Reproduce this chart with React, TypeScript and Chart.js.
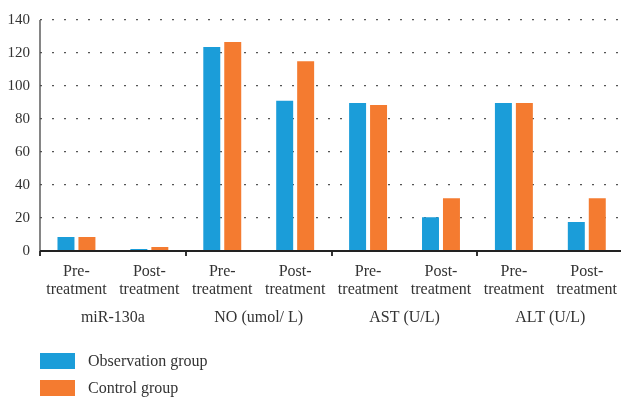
import React, { useEffect, useRef } from "react";
import { Chart, registerables } from "chart.js";

Chart.register(...registerables);

const categories: string[][] = [
  ["Pre-", "treatment"], ["Post-", "treatment"],
  ["Pre-", "treatment"], ["Post-", "treatment"],
  ["Pre-", "treatment"], ["Post-", "treatment"],
  ["Pre-", "treatment"], ["Post-", "treatment"],
];
const groups: string[] = ["miR-130a", "NO (umol/ L)", "AST (U/L)", "ALT (U/L)"];
const observation: number[] = [8.5, 1.2, 123.6, 91, 89.7, 20.5, 89.7, 17.6];
const control: number[] = [8.5, 2.4, 126.7, 115, 88.5, 32, 89.7, 32];
const seriesNames: string[] = ["Observation group", "Control group"];
const yTicks: number[] = [0, 20, 40, 60, 80, 100, 120, 140];

const BLUE = "#1b9dd9";
const ORANGE = "#f47b30";
const TEXT = "#333333";
const FONT = "'Liberation Serif', 'Times New Roman', serif";

const axisLines = {
  id: "axisLines",
  afterDraw(chart: any) {
    const { ctx, chartArea } = chart;
    ctx.save();
    ctx.setLineDash([]);
    ctx.strokeStyle = "#444";
    ctx.lineWidth = 1.3;
    ctx.beginPath();
    ctx.moveTo(chartArea.left, chartArea.top);
    ctx.lineTo(chartArea.left, chartArea.bottom);
    ctx.stroke();
    ctx.strokeStyle = "#222";
    ctx.lineWidth = 2;
    ctx.beginPath();
    ctx.moveTo(chartArea.left, chartArea.bottom);
    ctx.lineTo(chartArea.right, chartArea.bottom);
    ctx.stroke();
    ctx.restore();
  },
};

export default function App() {
  const ref = useRef<HTMLCanvasElement | null>(null);
  useEffect(() => {
    if (!ref.current) return;
    const chart = new Chart(ref.current, {
      type: "bar",
      data: {
        labels: categories,
        datasets: [
          { label: seriesNames[0], data: observation, backgroundColor: BLUE, xAxisID: "x" },
          { label: seriesNames[1], data: control, backgroundColor: ORANGE, xAxisID: "x" },
        ],
      },
      plugins: [axisLines],
      options: {
        responsive: false,
        animation: false,
        devicePixelRatio: 1,
        layout: { padding: { top: 20, bottom: 67, left: 0, right: 0 } },
        datasets: { bar: { categoryPercentage: 0.575, barPercentage: 0.81 } },
        plugins: { legend: { display: false }, tooltip: { enabled: false } },
        scales: {
          y: {
            min: 0,
            max: 140,
            afterFit: (s: any) => { s.width = 40; },
            afterBuildTicks: (s: any) => { s.ticks = yTicks.map((v) => ({ value: v })); },
            ticks: { padding: 10, color: TEXT, font: { family: FONT, size: 15 } },
            grid: {
              drawTicks: false,
              color: (ctx: any) => (ctx.tick && ctx.tick.value === 0 ? "rgba(0,0,0,0)" : "#555"),
              lineWidth: 1.3,
            },
            border: { display: false, dash: [2, 10], dashOffset: 0 },
          },
          x: {
            type: "category",
            position: "bottom",
            afterFit: (s: any) => { s.height = 50; },
            ticks: {
              padding: 7,
              color: TEXT,
              maxRotation: 0,
              autoSkip: false,
              font: { family: FONT, size: 16, lineHeight: 1.1 },
            },
            grid: {
              offset: true,
              drawOnChartArea: false,
              drawTicks: true,
              tickLength: 5,
              lineWidth: 2,
              color: (ctx: any) => (ctx.index % 2 === 0 ? "#333" : "rgba(0,0,0,0)"),
            },
            border: { display: false },
          },
          x2: {
            type: "category",
            position: "bottom",
            labels: groups,
            offset: true,
            afterFit: (s: any) => { s.height = 30; },
            ticks: { padding: 7, color: TEXT, font: { family: FONT, size: 16 } },
            grid: { display: false, drawTicks: false },
            border: { display: false },
          },
        },
      },
    });
    return () => chart.destroy();
  }, []);

  const legendColors = [BLUE, ORANGE];
  return (
    <div style={{ position: "fixed", left: 0, top: 0, width: 621, height: 398, overflow: "hidden", background: "#fff" }}>
      <canvas ref={ref} width={624} height={398} style={{ position: "absolute", left: 0, top: 0, width: 624, height: 398 }} />
      {seriesNames.map((name, i) => (
        <div
          key={name}
          style={{
            position: "absolute",
            left: 40,
            top: 353 + i * 27,
            height: 16,
            display: "flex",
            alignItems: "center",
            fontFamily: FONT,
            fontSize: 16,
            color: TEXT,
            whiteSpace: "nowrap",
          }}
        >
          <span style={{ display: "inline-block", width: 35, height: 16, background: legendColors[i], marginRight: 13 }} />
          <span style={{ lineHeight: "16px" }}>{name}</span>
        </div>
      ))}
    </div>
  );
}
